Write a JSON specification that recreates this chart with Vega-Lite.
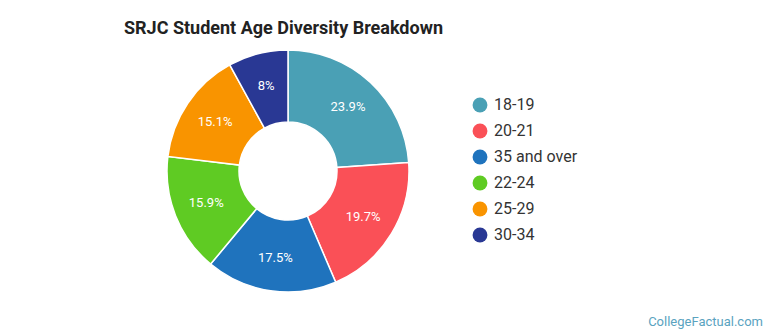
{
  "$schema": "https://vega.github.io/schema/vega-lite/v6.json",
  "autosize": {"type": "none"},
  "width": 242,
  "height": 244,
  "padding": {"left": 167, "top": 49, "right": 361, "bottom": 42},
  "background": "white",
  "title": {
    "text": "SRJC Student Age Diversity Breakdown",
    "anchor": "start",
    "frame": "group",
    "dx": -43,
    "offset": 9,
    "font": "Roboto",
    "fontSize": 18,
    "fontWeight": "bold",
    "color": "#222222"
  },
  "config": {"view": {"stroke": null}},
  "data": {
    "values": [
      {"age": "18-19", "share": 0.239},
      {"age": "20-21", "share": 0.197},
      {"age": "35 and over", "share": 0.175},
      {"age": "22-24", "share": 0.159},
      {"age": "25-29", "share": 0.151},
      {"age": "30-34", "share": 0.08}
    ]
  },
  "encoding": {
    "theta": {"field": "share", "type": "quantitative", "stack": true},
    "order": {"field": "share", "sort": "descending"},
    "color": {
      "field": "age",
      "type": "nominal",
      "scale": {
        "domain": ["18-19", "20-21", "35 and over", "22-24", "25-29", "30-34"],
        "range": ["#4aa0b5", "#fa5057", "#1f73bd", "#5fcb23", "#f99400", "#293894"]
      },
      "legend": {
        "title": null,
        "orient": "none",
        "legendX": 305,
        "legendY": 48,
        "symbolType": "circle",
        "symbolSize": 220,
        "symbolStrokeWidth": 0,
        "labelFont": "Roboto",
        "labelFontSize": 16,
        "labelColor": "#333333",
        "labelOffset": 6,
        "rowPadding": 10
      }
    }
  },
  "layer": [
    {
      "mark": {"type": "arc", "outerRadius": 121, "innerRadius": 49, "stroke": "white", "strokeWidth": 1.5}
    },
    {
      "mark": {"type": "text", "radius": 88, "font": "Roboto", "fontSize": 13, "color": "white"},
      "encoding": {
        "text": {"field": "share", "type": "quantitative", "format": ".1~%"},
        "color": {"value": "white"}
      }
    },
    {
      "data": {"values": [{"source": "CollegeFactual.com"}]},
      "mark": {"type": "text", "align": "right", "baseline": "alphabetic", "font": "Roboto", "fontSize": 13, "color": "#5aa3bf", "x": {"expr": "width + 354"}, "y": {"expr": "height + 33"}},
      "encoding": {
        "text": {"field": "source", "type": "nominal"},
        "theta": null,
        "order": null,
        "color": null
      }
    }
  ]
}
